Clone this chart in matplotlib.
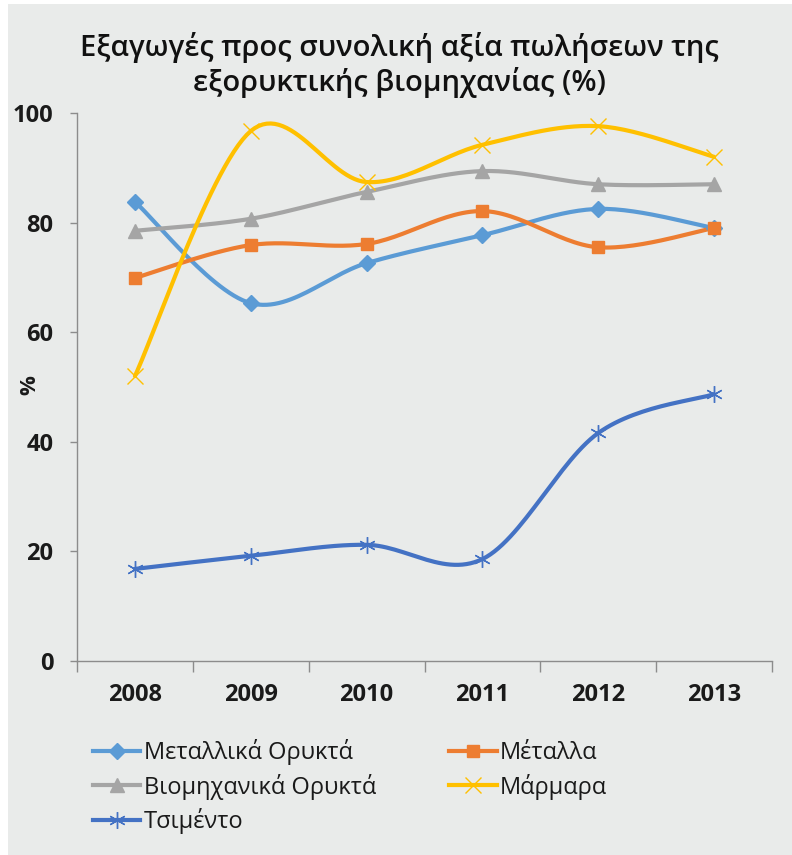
"""Εξαγωγές προς συνολική αξία πωλήσεων της εξορυκτικής βιομηχανίας (%)."""
import numpy as np
import matplotlib
matplotlib.use("Agg")
import matplotlib.pyplot as plt
from matplotlib.patches import Rectangle
from matplotlib.lines import Line2D

YEARS = ["2008", "2009", "2010", "2011", "2012", "2013"]
metallika = [83.8, 65.3, 72.6, 77.7, 82.5, 79.0]
metalla = [69.9, 75.9, 76.1, 82.1, 75.5, 79.0]
viomichanika = [78.5, 80.7, 85.6, 89.4, 87.0, 87.0]
marmara = [52.0, 96.7, 87.4, 94.2, 97.6, 92.0]
tsimento = [16.8, 19.2, 21.2, 18.6, 41.6, 48.7]

BG = "#e9ebea"
TXT = "#1a1a1a"
AXC = "#8c8c8c"
FONT = ["Open Sans", "DejaVu Sans"]
plt.rcParams["font.family"] = FONT

SERIES = [
    ("Μεταλλικά Ορυκτά", metallika, "#5b9bd5", dict(marker="D", ms=8)),
    ("Μέταλλα", metalla, "#ed7d31", dict(marker="s", ms=9)),
    ("Βιομηχανικά Ορυκτά", viomichanika, "#a5a5a5", dict(marker="^", ms=10)),
    ("Μάρμαρα", marmara, "#ffc000", dict(marker="x", ms=11, mew=1.0)),
    ("Τσιμέντο", tsimento, "#4472c4", dict(marker=(6, 2, 0), ms=12, mew=1.0)),
]


def smooth(x, y, n=30):
    # καμπύλη τύπου Excel (Catmull-Rom -> Bezier) για την ομαλή γραμμή
    p = np.column_stack([x, y]).astype(float)
    ext = np.vstack([p[0], p, p[-1]])
    out = []
    t = np.linspace(0, 1, n)[:, None]
    for i in range(len(p) - 1):
        p0, p3 = ext[i + 1], ext[i + 2]
        c1 = p0 + (ext[i + 2] - ext[i]) / 6
        c2 = p3 - (ext[i + 3] - ext[i + 1]) / 6
        seg = ((1 - t) ** 3) * p0 + 3 * ((1 - t) ** 2) * t * c1 + 3 * (1 - t) * t ** 2 * c2 + t ** 3 * p3
        out.append(seg if i == 0 else seg[1:])
    s = np.vstack(out)
    return s[:, 0], s[:, 1]


fig = plt.figure(figsize=(7.92, 8.55), dpi=100, facecolor="white")
fig.patches.append(Rectangle((8 / 792, 0), 1, 1 - 4 / 855, transform=fig.transFigure,
                             facecolor=BG, edgecolor="none", zorder=-10))
ax = fig.add_axes([77 / 792, 1 - 661 / 855, (772 - 77) / 792, (661 - 113) / 855])
ax.set_facecolor(BG)

x = np.arange(len(YEARS))
handles = []
for name, vals, col, mk in SERIES:
    sx, sy = smooth(x, vals)
    ax.plot(sx, sy, color=col, lw=3.0, solid_capstyle="round", zorder=2)
    ax.plot(x, vals, ls="none", color=col, mec=col, zorder=3, **mk)
    handles.append(Line2D([0], [0], color=col, lw=3.0, mec=col, **mk))

ax.set_xlim(-0.5, len(YEARS) - 0.5)
ax.set_ylim(0, 100)
ax.set_yticks([0, 20, 40, 60, 80, 100])
ax.set_xticks(x)
ax.set_xticklabels(YEARS)
ax.set_xticks(np.arange(len(YEARS) + 1) - 0.5, minor=True)
ax.tick_params(axis="x", which="major", length=0, pad=16, labelsize=17)
ax.tick_params(axis="x", which="minor", length=8, color=AXC, width=1)
ax.tick_params(axis="y", length=5, color=AXC, width=1, labelsize=17, pad=12)
for lab in ax.get_xticklabels() + ax.get_yticklabels():
    lab.set_fontweight("bold")
    lab.set_color(TXT)
for s in ["top", "right"]:
    ax.spines[s].set_visible(False)
for s in ["left", "bottom"]:
    ax.spines[s].set_color(AXC)
    ax.spines[s].set_linewidth(1)

fig.text(30 / 792, 1 - 385 / 855, "%", rotation=90, ha="center", va="center",
         fontsize=16, fontweight="bold", color=TXT)
fig.text(399 / 792, 1 - 65 / 855, "Εξαγωγές προς συνολική αξία πωλήσεων της\nεξορυκτικής βιομηχανίας (%)",
         ha="center", va="center", fontsize=21, color="#111111", linespacing=1.2,
         fontweight="semibold")

# σειρά ανά γραμμή όπως στο Excel (το matplotlib γεμίζει ανά στήλη)
order = [0, 2, 4, 1, 3]
leg = fig.legend([handles[i] for i in order], [SERIES[i][0] for i in order], ncol=2,
                 loc="upper left", bbox_to_anchor=(72 / 792, 1 - 718 / 855), frameon=False,
                 fontsize=17, handlelength=2.0, handletextpad=0.15,
                 columnspacing=3.1, labelspacing=0.35)
for t in leg.get_texts():
    t.set_color(TXT)

fig.savefig("out.png", dpi=100, facecolor=fig.get_facecolor())
